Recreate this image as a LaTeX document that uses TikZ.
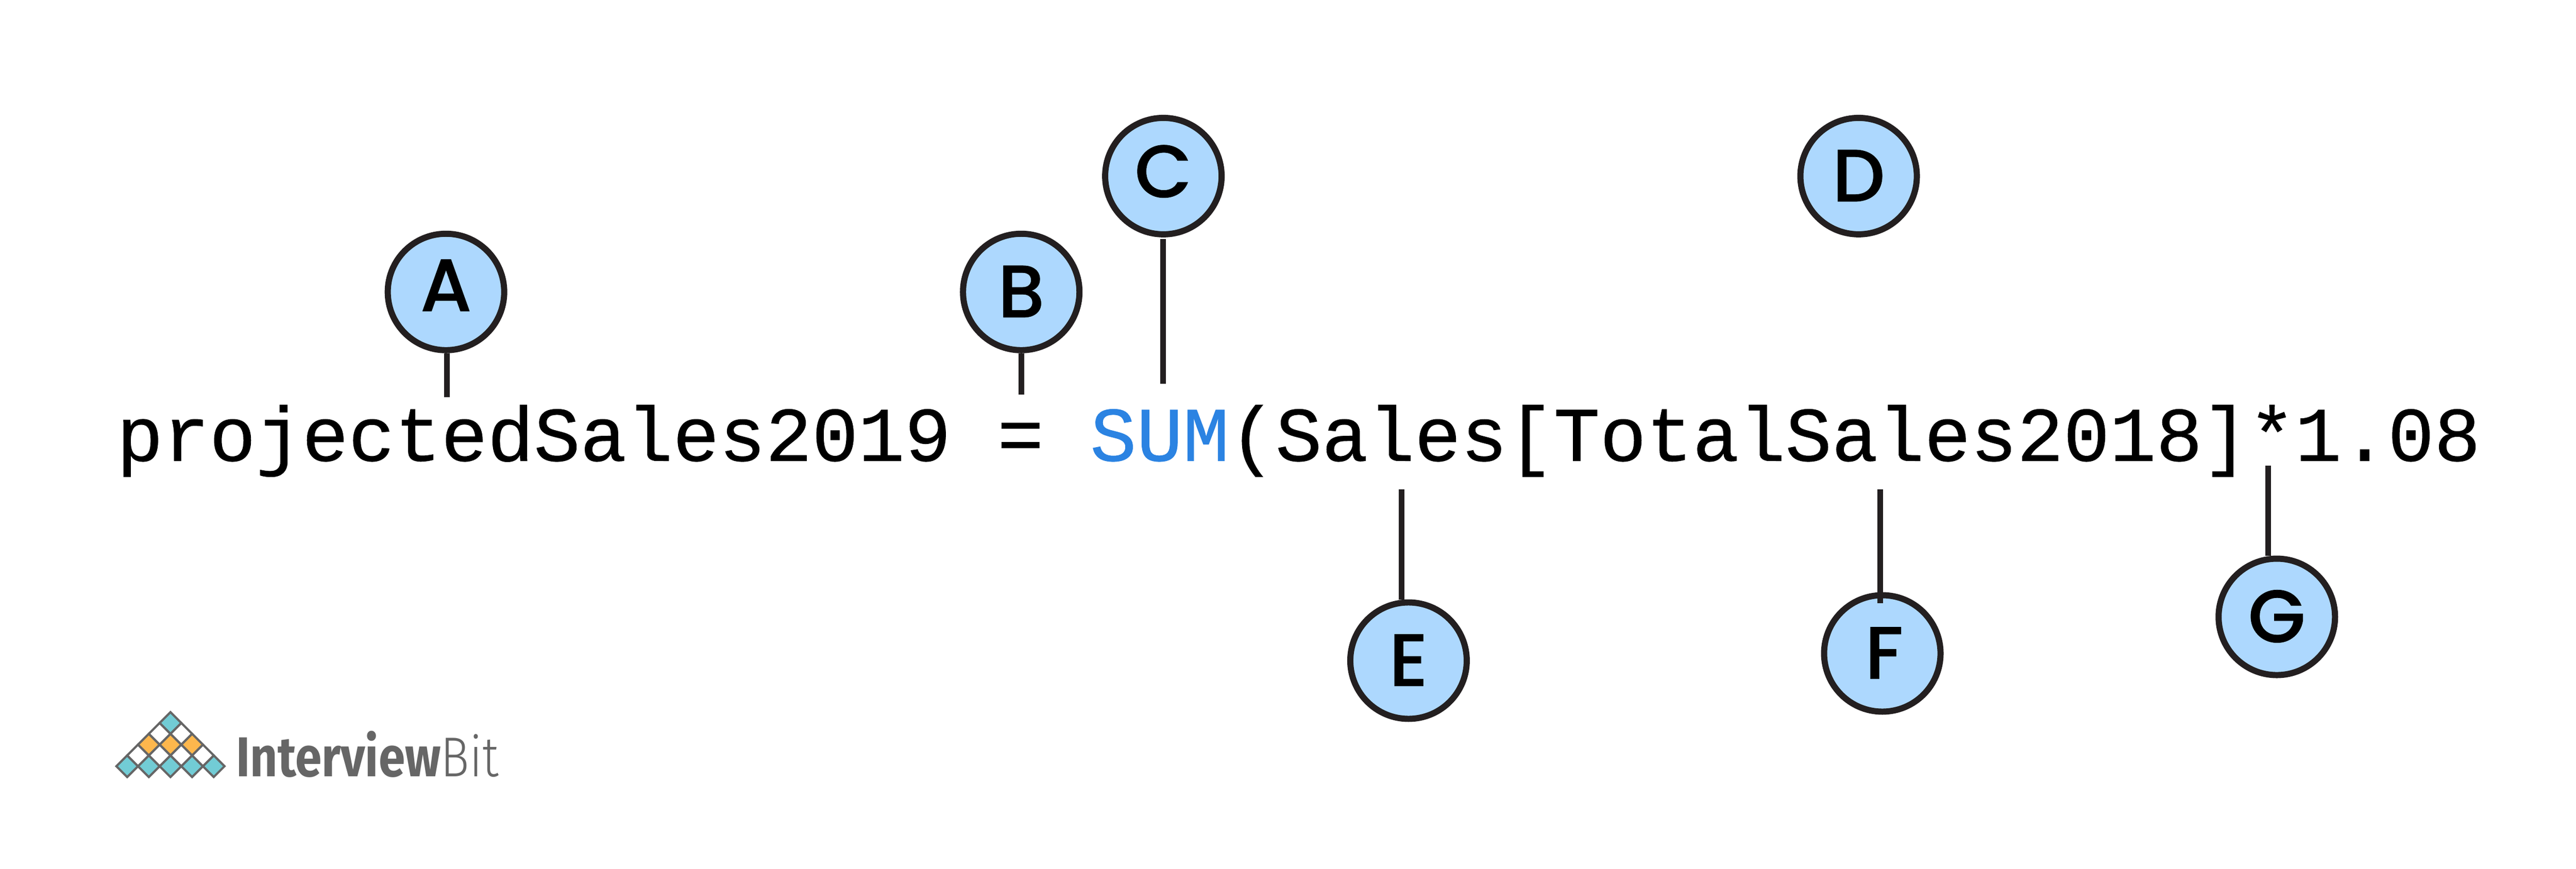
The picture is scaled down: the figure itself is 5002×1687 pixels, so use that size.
\documentclass[tikz,border=0pt]{standalone}
\usepackage{fontspec}
\setmonofont[FakeBold=0.6]{Liberation Mono}
\newfontfamily\letterfont[FakeBold=0.5]{Poppins Medium}
\newfontfamily\logofont[FakeStretch=0.85]{Fira Sans}
\newfontfamily\logolight[FakeStretch=0.85]{Fira Sans Light}
\usetikzlibrary{positioning}
\definecolor{bubblefill}{HTML}{ADD8FE}
\definecolor{inkline}{HTML}{231F20}
\definecolor{sumblue}{HTML}{2B83E2}
\definecolor{logogrey}{HTML}{666666}
\definecolor{logoteal}{HTML}{72CCD5}
\definecolor{logoorange}{HTML}{FDB74D}
\def\charsize{42.65pt}
\tikzset{
  bubble/.style={circle, draw=inkline, fill=bubblefill, line width=3.4pt, minimum size=2.26cm, inner sep=0pt, text height=28pt, text depth=0pt, font=\letterfont\fontsize{41}{41}\selectfont},
  leader/.style={draw=inkline, line width=3.1pt},
  code/.style={anchor=base west, inner sep=0pt, font=\ttfamily\fontsize{\charsize}{\charsize}\selectfont},
  tile/.style={draw=logogrey, line width=1.2pt, line join=miter}
}
\begin{document}
\begin{tikzpicture}[x=0.01cm, y=-0.01cm]
  \useasboundingbox (0,0) rectangle (5002,1687);
  % the formula
  \node[code] (formula) at (226,895) {projectedSales2019 = \textcolor{sumblue}{SUM}(Sales[TotalSales2018]*1.08};
  % bubbles above
  \node[bubble] (A) at (866,567) {\raisebox{3.4pt}[0pt][0pt]{A}};
  \node[bubble] (B) at (1983,567) {B};
  \node[bubble] (C) at (2259,342) {\raisebox{2.3pt}[0pt][0pt]{C}};
  \node[bubble] (D) at (3609,342) {D};
  % bubbles below
  \node[bubble] (E) at (2735,1283) {E};
  \node[bubble] (F) at (3655,1269) {\hspace{2pt}F};
  \node[bubble] (G) at (4421,1198) {G};
  % free ends of the leaders
  \coordinate (a1) at (868,771);
  \coordinate (b1) at (1983,766);
  \coordinate (c1) at (2258,745);
  \coordinate (e1) at (2722,950);
  \coordinate (f1) at (3651,950);
  \coordinate (f2) at (3651,1171);
  \coordinate (g1) at (4404,904);
  \draw[leader] (a1) -- (a1 |- A.south);
  \draw[leader] (b1) -- (b1 |- B.south);
  \draw[leader, shorten >=0.85pt] (c1) -- (c1 |- C.south);
  \draw[leader] (e1) -- (e1 |- E.north);
  \draw[leader] (f1) -- (f2);
  \draw[leader] (g1) -- (g1 |- G.north);
  % logo
  \foreach \x in {247,289,331,373,415}
    \draw[tile, fill=logoteal] (\x-21,1488) -- (\x,1467) -- (\x+21,1488) -- (\x,1509) -- cycle;
  \foreach \x in {268,310,352,394}
    \draw[tile, fill=white] (\x-21,1467) -- (\x,1446) -- (\x+21,1467) -- (\x,1488) -- cycle;
  \foreach \x in {289,331,373}
    \draw[tile, fill=logoorange] (\x-21,1446) -- (\x,1425) -- (\x+21,1446) -- (\x,1467) -- cycle;
  \foreach \x in {310,352}
    \draw[tile, fill=white] (\x-21,1425) -- (\x,1404) -- (\x+21,1425) -- (\x,1446) -- cycle;
  \draw[tile, fill=logoteal] (310,1404) -- (331,1383) -- (352,1404) -- (331,1425) -- cycle;
  \node[anchor=base west, inner sep=0pt, text=logogrey, font=\logofont\fontsize{31}{31}\selectfont] (logo) at (458,1508) {\textbf{Interview}{\logolight Bit}};
\end{tikzpicture}
\end{document}
